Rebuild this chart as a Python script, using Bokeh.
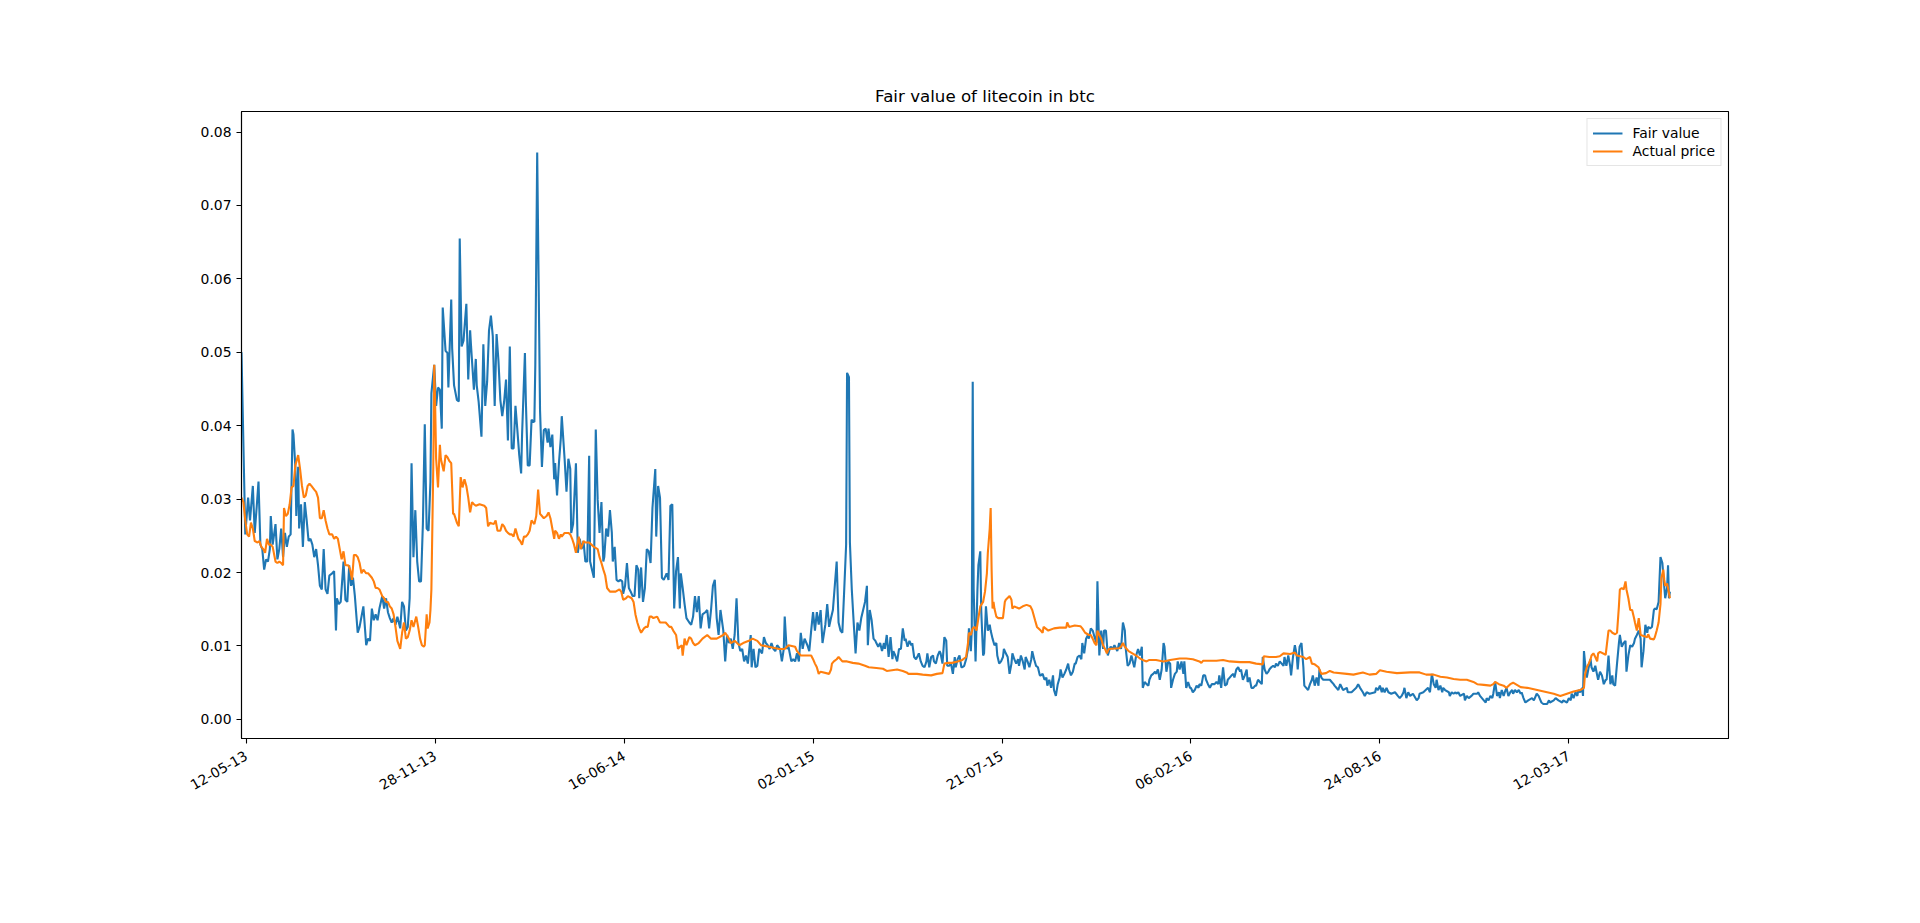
import math
from bokeh.plotting import figure
from bokeh.models import Range1d, FixedTicker, NumeralTickFormatter
from bokeh.embed import file_html
from bokeh.resources import INLINE

# x values are days since 2013-05-12 (first x tick)
START_DATE = "2013-05-12"
x_tick_days = [0, 200, 400, 600, 800, 1000, 1200, 1400]
x_tick_labels = ["12-05-13", "28-11-13", "16-06-14", "02-01-15",
                 "21-07-15", "06-02-16", "24-08-16", "12-03-17"]
y_ticks = [0.00, 0.01, 0.02, 0.03, 0.04, 0.05, 0.06, 0.07, 0.08]
X_MIN, X_MAX = -5, 1569
Y_MIN, Y_MAX = -0.0026, 0.0828

fair_days = [
    -5, -1, 2, 4, 7, 9, 11, 13, 15, 17, 19, 21, 23, 25, 26, 28, 31, 33, 35, 37, 39, 41, 43, 45, 47,
    49, 50, 52, 53, 55, 56, 58, 60, 62, 64, 66, 68, 70, 72, 74, 76, 78, 80, 82, 84, 86, 88, 91, 93,
    95, 96, 98, 100, 103, 105, 107, 109, 111, 113, 115, 118, 120, 122, 124, 127, 129, 131, 133, 135,
    137, 139, 141, 144, 146, 148, 150, 152, 154, 156, 158, 160, 163, 165, 167, 169, 171, 173, 175,
    177, 179, 181, 183, 185, 187, 189, 191, 193, 195, 196, 199, 201, 203, 205, 207, 208, 211, 213,
    214, 217, 218, 220, 223, 225, 226, 228, 230, 233, 235, 237, 238, 241, 243, 244, 246, 249, 251,
    253, 255, 257, 259, 261, 263, 265, 267, 269, 271, 273, 275, 277, 279, 281, 283, 285, 287, 289,
    291, 292, 295, 296, 298, 300, 302, 305, 306, 308,
    311, 313, 315, 317, 319, 320, 322, 324, 326, 327, 329, 331, 333, 334, 337, 339, 341, 343, 344,
    346, 349, 351, 353, 355, 357, 359, 361, 363, 364, 366, 368, 370, 372, 374, 376, 378, 379, 381,
    383, 385, 387, 388, 390, 392, 394, 396, 398, 399, 401, 403, 405, 407, 409, 411, 413, 415, 416,
    418, 420, 422, 424, 426, 428, 430, 433, 434, 436, 438, 440, 442, 445, 447, 449, 451, 453, 455,
    457, 459, 460, 462, 464, 466, 469, 471, 473, 475, 477, 479, 481, 483, 486, 488, 490, 492, 494,
    496, 498, 500, 502, 505, 507, 509, 511, 513, 515, 517, 519, 521, 523, 525, 527, 529, 531, 534,
    535, 537, 539, 541, 543, 546, 548, 550, 552, 554, 556, 558, 560, 562, 565, 567, 569, 570, 572,
    574, 577, 579, 581, 583, 585, 587, 589, 591, 594, 596, 598, 600, 602, 604, 606, 608, 610, 613,
    615, 617, 619, 621,
    625, 627, 629, 631, 633, 635, 636, 638, 639, 641, 643, 645, 647, 649, 651, 653, 655, 657, 658,
    660, 662, 664, 666, 667, 669, 671, 673, 675, 676, 678, 680, 682, 684, 685, 687, 689, 691, 693,
    695, 697, 698, 700, 702, 704, 705, 707, 709, 711, 712, 714, 716, 718, 720, 721, 723, 725, 727,
    728, 730, 732, 734, 735, 737, 739, 741, 742, 744, 746, 748, 750, 751, 753, 755, 757, 758, 760,
    762, 764, 765, 767, 768, 769, 770, 772, 774, 775, 777, 778, 780, 781, 783, 785, 787, 788, 790,
    792, 794, 795, 797, 799, 801, 802, 804, 806, 808, 810, 811, 813, 815, 817, 818, 820, 822, 824,
    825, 827, 829, 831, 832, 834, 836, 838, 840, 841, 843, 845, 847, 848, 850, 852, 854, 855, 857,
    859, 861, 862, 864, 866, 868, 870, 871, 873, 875, 877, 878, 880, 882, 884, 885, 887, 889, 891,
    892, 894, 896, 898, 900, 901, 903, 905, 907, 908, 910, 912, 914, 915, 917, 919, 921, 922, 924,
    926, 928, 930, 931, 933, 935, 937,
    939, 940, 942, 944, 946, 948, 949, 951, 953, 955, 956, 958, 960, 962, 963, 965, 967, 969, 971,
    972, 974, 976, 978, 979, 981, 983, 985, 986, 988, 990, 992, 993, 995, 997, 999, 1000, 1002,
    1004, 1006, 1008, 1009, 1011, 1013, 1015, 1016, 1018, 1020, 1022, 1023, 1025, 1027, 1029, 1030,
    1032, 1034, 1036, 1038, 1039, 1041, 1043, 1045, 1046, 1048, 1050, 1052, 1053, 1055, 1057, 1059,
    1060, 1062, 1064, 1066, 1068, 1069, 1071, 1073, 1075, 1076, 1078, 1080, 1082, 1083, 1085, 1087,
    1089, 1090, 1092, 1094, 1096, 1098, 1099, 1101, 1103, 1105, 1106, 1108, 1110, 1112, 1113, 1115,
    1117, 1119, 1120, 1122, 1124, 1126, 1128, 1129, 1131, 1133, 1135, 1136, 1138, 1140, 1143, 1147,
    1149, 1151, 1152, 1156, 1158, 1161, 1165, 1166, 1170, 1175, 1177, 1179, 1182, 1184, 1186, 1189,
    1195, 1196, 1198, 1200, 1202, 1203, 1205, 1207, 1209, 1212, 1216, 1219, 1221, 1223, 1225, 1226,
    1228, 1230, 1232, 1235, 1239, 1241, 1242, 1246, 1251,
    1253, 1255, 1257, 1259, 1260, 1262, 1264, 1266, 1267, 1269, 1273, 1274, 1276, 1278, 1280, 1281,
    1283, 1285, 1289, 1290, 1292, 1294, 1297, 1299, 1303, 1304, 1306, 1310, 1312, 1313, 1315, 1317,
    1319, 1320, 1322, 1324, 1326, 1327, 1329, 1331, 1333, 1334, 1336, 1338, 1340, 1341, 1343, 1345,
    1347, 1349, 1350, 1352, 1354, 1357, 1361, 1363, 1364, 1366, 1368, 1370, 1371, 1373, 1377, 1379,
    1380, 1384, 1386, 1389, 1393, 1394, 1398, 1400, 1402, 1403, 1405, 1407, 1409, 1410, 1412, 1414,
    1415, 1416, 1418, 1419, 1421, 1423, 1424, 1426, 1428, 1430, 1431, 1433, 1435, 1437, 1439, 1440,
    1442, 1444, 1446, 1447, 1449, 1451, 1453, 1454, 1456, 1458, 1460, 1461, 1463, 1465, 1467, 1469,
    1470, 1472, 1474, 1476, 1477, 1479, 1481, 1483, 1484, 1486, 1488, 1490, 1491, 1493, 1495, 1497,
    1499, 1500, 1502, 1504, 1505, 1506, 1507,
]
fair_values = [
    .0500, .0252, .0302, .0271, .0318, .0254, .0288, .0324, .0238, .0232, .0204, .0218, .0215, .0232,
    .0277, .0238, .0266, .0218, .0232, .0260, .0221, .0254, .0235, .0249, .0252,
    .0395, .0388, .0344, .0277, .0344, .0260, .0293, .0235, .0296, .0271, .0243, .0246, .0238, .0221,
    .0232, .0210, .0182, .0177, .0232, .0177, .0171, .0196, .0199, .0202,
    .0121, .0165, .0157, .0160, .0215, .0163, .0160, .0210, .0182, .0193, .0168, .0118, .0126, .0140,
    .0154, .0101, .0110, .0107, .0151, .0135,
    .0143, .0135, .0151, .0168, .0151, .0165, .0146, .0138, .0132, .0138, .0129, .0140, .0124, .0160,
    .0154, .0121, .0126, .0165, .0349,
    .0221, .0285, .0215, .0188, .0188, .0266, .0402, .0260, .0257, .0324, .0444, .0483, .0427, .0452,
    .0449, .0396, .0561, .0502, .0499,
    .0452, .0572, .0505, .0455, .0435, .0433, .0655, .0508, .0516, .0566, .0463, .0530, .0508, .0449,
    .0491, .0455, .0433, .0385, .0511,
    .0427, .0460, .0530, .0550, .0522, .0427, .0525, .0488, .0435, .0413, .0433, .0463, .0380, .0508,
    .0369, .0369, .0427, .0394, .0360,
    .0335, .0388, .0499, .0433, .0346, .0346, .0408, .0405, .0483, .0772,
    .0421, .0344, .0394, .0396, .0377, .0396, .0371, .0388, .0327, .0349, .0305, .0349, .0383, .0413,
    .0355, .0310, .0355, .0341, .0254,
    .0266, .0349, .0227, .0246, .0232, .0243, .0215, .0215, .0359, .0215, .0204, .0193, .0395, .0299,
    .0254, .0296, .0215, .0221, .0260,
    .0249, .0285, .0254, .0215, .0235, .0190, .0188, .0190, .0188, .0171, .0182, .0213, .0179, .0174,
    .0168, .0168, .0210, .0204, .0165,
    .0207, .0160, .0179, .0232, .0229, .0213, .0288, .0341, .0249, .0318, .0302, .0193, .0190, .0199,
    .0190, .0291, .0293, .0151, .0202,
    .0221, .0151, .0199, .0179, .0157, .0138, .0132, .0129, .0140, .0168, .0146, .0168, .0124, .0143,
    .0146, .0149, .0124, .0149, .0182,
    .0190, .0138, .0115, .0149, .0121, .0079, .0115, .0104, .0110, .0096, .0115, .0165, .0104, .0093,
    .0096, .0079, .0087, .0076, .0115,
    .0071, .0096, .0071, .0073, .0096, .0090, .0112, .0104, .0101, .0096, .0104, .0096, .0093, .0101,
    .0096, .0079, .0096, .0140, .0096,
    .0099, .0079, .0082, .0079, .0090, .0079, .0118, .0096, .0110, .0101, .0093, .0121, .0146, .0121,
    .0146, .0129, .0149, .0104, .0129,
    .0157, .0126, .0138, .0149,
    .0215, .0132, .0121, .0118, .0177, .0238, .0472, .0466, .0241, .0177, .0132, .0090, .0132, .0121,
    .0138, .0149, .0160, .0182, .0101,
    .0149, .0135, .0110, .0107, .0104, .0099, .0104, .0093, .0104, .0096, .0115, .0085, .0112, .0082,
    .0093, .0087, .0079, .0096, .0096,
    .0124, .0107, .0110, .0099, .0107, .0101, .0104, .0085, .0082, .0087, .0090, .0079, .0073, .0071,
    .0079, .0090, .0071, .0085, .0087,
    .0079, .0076, .0087, .0093, .0090, .0076, .0112, .0107, .0073, .0073, .0076, .0062, .0085, .0071,
    .0082, .0087, .0071, .0071, .0073,
    .0082, .0096, .0124, .0093, .0121, .0460, .0177, .0079, .0177, .0210, .0229, .0149, .0087, .0090,
    .0154, .0121, .0129, .0121, .0110,
    .0101, .0104, .0087, .0076, .0079, .0085, .0096, .0090, .0085, .0062, .0076, .0090, .0082, .0076,
    .0082, .0073, .0087, .0079, .0068,
    .0085, .0079, .0071, .0082, .0093, .0082, .0073, .0071, .0060, .0060, .0062, .0054, .0057, .0046,
    .0054, .0043, .0060, .0040, .0032,
    .0048, .0057, .0068, .0057, .0062, .0068, .0076, .0068, .0060, .0065, .0076, .0076, .0085, .0087,
    .0082, .0104, .0090, .0110, .0115,
    .0110, .0124, .0121, .0112, .0104, .0188, .0087, .0121, .0096, .0121, .0121, .0087, .0096, .0099,
    .0096, .0101, .0096, .0093, .0104,
    .0096, .0132, .0121, .0096, .0073, .0076, .0087,
    .0076, .0071, .0087, .0096, .0087, .0099, .0043, .0051, .0048, .0046, .0054, .0060, .0062, .0065,
    .0062, .0068, .0054, .0068, .0104,
    .0099, .0065, .0079, .0076, .0043, .0054, .0062, .0065, .0079, .0068, .0079, .0062, .0079, .0043,
    .0051, .0043, .0043, .0037,
    .0040, .0046, .0043, .0048, .0046, .0060, .0060, .0054, .0048, .0043, .0048, .0048, .0048, .0051,
    .0048, .0060,
    .0043, .0071, .0046, .0048, .0054, .0057, .0060, .0062, .0057, .0068, .0071, .0065, .0068, .0054,
    .0060, .0068,
    .0051, .0057, .0043, .0043, .0046, .0046, .0054, .0051, .0048, .0085, .0068, .0062, .0065, .0068,
    .0071, .0073,
    .0071, .0076, .0073, .0079, .0076, .0073, .0085, .0073, .0087, .0073, .0060, .0085, .0101, .0087,
    .0068, .0099,
    .0104, .0071, .0046, .0043, .0040, .0048, .0054, .0060, .0046, .0057, .0046, .0068, .0057, .0054,
    .0054, .0054,
    .0051, .0048, .0046, .0040, .0048, .0040, .0043, .0037, .0037, .0043, .0048, .0043, .0037, .0032,
    .0037, .0035,
    .0037, .0043, .0040, .0046, .0037, .0043, .0037, .0043, .0037, .0035, .0037, .0032, .0029, .0032,
    .0037, .0043,
    .0029, .0037, .0032, .0035, .0026, .0029, .0035, .0037, .0043,
    .0037, .0062, .0048, .0043, .0054, .0040, .0046, .0037, .0043, .0040, .0037, .0032, .0037, .0035,
    .0037, .0035,
    .0037, .0032, .0035, .0026, .0032, .0029, .0032, .0035, .0035, .0037, .0032, .0026, .0023, .0029,
    .0026, .0032,
    .0029, .0035, .0051, .0032, .0037, .0029, .0040, .0032, .0040, .0043, .0032, .0037, .0040, .0035,
    .0040, .0037,
    .0040, .0035, .0037, .0029, .0023, .0026, .0029, .0026, .0029, .0035, .0032, .0026, .0023, .0021,
    .0021, .0026,
    .0023, .0026, .0029, .0026, .0023, .0026, .0023, .0029, .0026, .0035, .0029, .0037, .0032, .0040,
    .0037, .0043,
    .0032, .0093, .0065, .0057, .0071, .0082, .0071, .0065, .0073, .0060, .0054, .0065, .0060, .0048,
    .0054, .0054,
    .0087, .0048, .0060, .0048, .0046, .0076, .0104, .0115, .0099, .0104, .0107, .0065, .0087, .0101,
    .0099, .0104,
    .0110, .0115, .0121, .0110, .0071, .0093, .0129, .0118, .0126, .0124, .0126, .0149, .0151, .0150,
    .0160, .0221,
    .0213, .0196, .0165, .0179, .0210, .0165, .0174,
]

price_days = [
    -5, -3, -1, 1, 3, 5, 7, 9, 12, 14, 16, 18, 20, 22, 24, 26, 28, 31, 33, 35, 37, 39, 40, 42, 44, 46,
    48, 50, 52, 55, 57, 59, 61, 63, 65, 67, 69, 72, 74, 76, 78, 80, 82, 84, 86, 88, 91, 93, 95, 97,
    99, 101, 103, 105, 108, 110, 112, 114, 116, 118, 120, 122, 124, 127, 129, 131, 133, 135, 137,
    139, 141, 144, 146, 148, 150, 152, 154, 156, 158, 160, 163, 165, 167, 169, 171, 173, 175, 177,
    180, 182, 184, 186, 188, 189, 191, 192, 194, 195, 196, 198, 199, 200, 201, 203, 205, 206, 209,
    211, 213, 215, 217, 219, 220, 223, 225, 227, 229, 231, 233, 235, 237, 239, 241, 243, 247, 252,
    254, 256, 258, 262, 264, 266, 269, 271, 273, 275, 277, 279, 281, 283, 285, 288, 290, 292, 294,
    296, 298, 300, 302, 305, 307, 309,
    311, 313, 315, 318, 320, 322, 324, 326, 327, 329, 331, 333, 334, 337, 341, 343, 345, 347, 349,
    350, 352, 354, 356, 357, 359, 363, 368, 372, 374, 376, 378, 380, 382, 385, 391, 395, 397, 399,
    402, 404, 408, 410, 412, 414, 416, 418, 421, 423, 425, 427, 429, 431, 435, 438, 444, 448, 450,
    452, 455, 457, 459, 461, 462, 464, 466, 469, 471, 473, 475, 479, 483, 488, 492, 498, 505, 507,
    511, 513, 517, 522, 526, 532, 536, 541, 545, 553, 564, 570, 574, 581, 583, 585, 587, 598, 600,
    602, 604, 606, 608, 617, 619, 620, 622,
    625, 627, 631, 636, 642, 648, 655, 659, 667, 674, 678, 689, 695, 699, 701, 710, 716, 725, 731,
    737, 739, 743, 747, 753, 758, 762, 764, 765, 767, 769, 771, 773, 775, 777, 780, 782, 784, 785,
    787, 788, 789, 790, 791, 792, 794, 796, 801, 803, 804, 808, 810, 811, 813, 818, 822, 826, 830,
    832, 835, 837, 841, 843, 844, 849, 855, 861, 868, 869, 871, 877, 883, 885, 888, 892, 894, 896,
    898, 900, 901, 903, 905, 907, 909, 911, 913, 924, 926, 928, 930, 934, 938,
    942, 946, 949, 953, 956, 963, 971, 978, 988, 995, 1002, 1009, 1011, 1013, 1027, 1034, 1041, 1052,
    1062, 1069, 1076, 1077, 1083, 1090, 1094, 1098, 1105, 1110, 1112, 1119, 1122, 1126, 1128, 1131,
    1135, 1138, 1143, 1147, 1151, 1165, 1172, 1182, 1189, 1196, 1200, 1207, 1218, 1232, 1242, 1249,
    1257, 1264, 1271, 1278, 1285, 1292, 1299, 1303, 1310, 1317, 1320, 1322, 1326, 1331, 1334, 1338,
    1341, 1345, 1349, 1356, 1363, 1370, 1377, 1384, 1391, 1398, 1405, 1412, 1416, 1417, 1419, 1421,
    1423, 1424, 1426, 1428, 1430, 1431, 1433, 1439, 1440, 1442, 1444, 1446, 1449, 1451, 1453, 1454,
    1456, 1458, 1460, 1461, 1463, 1465, 1467, 1469, 1470, 1472, 1474, 1476, 1483, 1484, 1486, 1490,
    1491, 1493, 1495, 1497, 1498, 1500, 1501, 1502, 1504, 1505, 1507,
]
price_values = [
    .0302, .0296, .0271, .0252, .0249, .0268, .0260, .0243, .0241, .0243, .0235, .0232, .0227, .0246,
    .0238, .0238, .0235, .0215, .0213, .0215, .0213, .0210, .0288, .0277, .0280, .0293,
    .0316, .0318, .0346, .0360, .0341, .0318, .0302, .0305, .0318, .0321, .0318, .0313, .0310, .0302,
    .0274, .0274, .0285, .0271, .0260, .0252, .0252, .0246, .0249, .0246,
    .0232, .0218, .0229, .0210, .0210, .0204, .0190, .0224, .0224, .0221, .0213, .0199, .0204, .0199,
    .0199, .0196, .0193, .0188, .0179,
    .0179, .0177, .0168, .0165, .0160, .0160, .0154, .0151, .0143, .0126, .0107, .0096, .0118, .0132,
    .0110, .0112, .0121, .0135, .0126,
    .0140, .0126, .0110, .0101, .0099, .0101, .0143, .0124, .0132, .0149, .0177, .0344, .0483, .0427,
    .0355, .0316, .0374, .0355, .0338,
    .0360, .0357, .0352, .0349, .0280, .0280, .0268, .0263, .0330, .0316, .0327, .0318, .0302, .0282,
    .0296, .0293, .0291, .0293, .0291,
    .0288, .0263, .0268, .0266, .0271, .0257, .0257, .0266, .0263, .0257, .0254, .0252, .0252, .0249,
    .0260, .0246, .0243, .0238, .0249,
    .0249, .0252, .0257, .0271, .0266, .0277, .0313,
    .0280, .0277, .0274, .0277, .0282, .0274, .0260, .0246, .0257, .0254, .0246, .0252, .0249, .0254,
    .0254, .0252, .0246, .0238, .0227,
    .0235, .0249, .0232, .0238, .0243, .0241, .0241, .0235, .0232, .0221, .0213, .0204, .0196, .0179,
    .0174, .0174, .0177, .0174, .0163,
    .0165, .0168, .0165, .0160, .0143, .0132, .0124, .0118, .0124, .0126, .0126, .0140, .0140, .0138,
    .0140, .0132, .0132, .0126, .0126,
    .0121, .0115, .0096, .0099, .0101, .0087, .0110, .0101, .0112, .0110, .0104, .0101, .0104, .0110,
    .0115, .0110, .0110, .0115, .0118,
    .0110, .0104, .0107, .0101, .0104, .0107, .0110, .0107, .0101, .0099, .0096, .0096, .0101, .0099,
    .0093, .0090, .0087, .0087, .0082,
    .0076, .0071, .0062, .0065, .0062, .0068, .0076, .0079,
    .0082, .0085, .0079, .0079, .0077, .0076, .0073, .0071, .0070, .0069, .0066, .0068, .0066, .0064,
    .0062, .0062, .0061, .0060, .0062,
    .0063, .0076, .0077, .0077, .0079, .0081, .0085, .0104, .0118, .0115, .0124, .0126, .0121, .0138,
    .0154, .0160, .0174, .0199, .0227,
    .0260, .0288, .0204, .0151, .0160, .0151, .0140, .0138, .0138, .0160, .0163, .0168, .0163, .0151,
    .0154, .0151, .0154, .0156, .0154,
    .0149, .0135, .0126, .0121, .0118, .0126, .0121, .0124, .0125, .0125, .0132, .0126, .0128, .0127,
    .0124, .0118, .0115, .0115, .0110,
    .0104, .0101, .0121, .0115, .0110, .0101, .0096, .0090, .0096, .0097, .0099, .0104, .0099, .0093,
    .0090,
    .0087, .0083, .0081, .0079, .0081, .0081, .0079, .0081, .0083, .0083, .0082, .0079, .0077, .0080,
    .0080, .0081, .0079, .0078,
    .0078, .0076, .0075, .0086, .0085, .0085, .0086, .0090, .0089, .0091, .0087, .0085, .0082, .0085,
    .0076, .0075,
    .0071, .0062, .0063, .0066, .0064, .0062, .0061, .0064, .0061, .0062, .0067, .0065, .0063, .0064,
    .0064, .0061,
    .0061, .0058, .0057, .0055, .0054, .0054, .0051, .0048, .0047, .0046, .0048, .0051, .0048, .0046,
    .0043, .0048,
    .0050, .0047, .0044, .0043, .0041, .0039, .0037, .0035, .0032, .0035, .0038, .0040, .0043, .0060,
    .0071, .0076,
    .0082, .0087, .0090, .0085, .0079, .0090, .0092, .0088, .0099, .0121, .0121, .0118, .0116, .0118,
    .0154, .0177,
    .0179, .0177, .0188, .0177, .0165, .0149, .0149, .0138, .0132, .0121, .0138, .0115, .0112, .0116,
    .0110, .0109,
    .0112, .0121, .0132, .0157, .0193, .0204, .0190, .0182, .0185, .0179, .0165,
]

p = figure(
    width=1904, height=907,
    output_backend="svg", toolbar_location=None,
    x_range=Range1d(X_MIN, X_MAX), y_range=Range1d(Y_MIN, Y_MAX),
    title="Fair value of litecoin in btc",
    min_border_left=241, min_border_right=176,
    min_border_top=111, min_border_bottom=169,
)
p.background_fill_color = "white"
p.border_fill_color = "white"
p.outline_line_color = "black"
p.outline_line_width = 1.1
p.outline_line_alpha = 1.0
p.grid.grid_line_color = None

p.title.text_font = "DejaVu Sans"
p.title.text_font_size = "16.67px"
p.title.text_font_style = "normal"
p.title.text_color = "black"
p.title.align = "center"
p.title.standoff = 11

for ax in (p.xaxis[0], p.yaxis[0]):
    ax.axis_line_color = "black"
    ax.axis_line_width = 1.1
    ax.major_tick_line_color = "black"
    ax.major_tick_line_width = 1.1
    ax.major_tick_out = 5
    ax.major_tick_in = 0
    ax.minor_tick_line_color = None
    ax.major_label_text_font = "DejaVu Sans"
    ax.major_label_text_font_size = "13.9px"
    ax.major_label_text_color = "black"
    ax.major_label_standoff = 5

p.yaxis.ticker = FixedTicker(ticks=y_ticks)
p.yaxis.formatter = NumeralTickFormatter(format="0.00")
p.xaxis.ticker = FixedTicker(ticks=x_tick_days)
p.xaxis.major_label_overrides = {d: lab for d, lab in zip(x_tick_days, x_tick_labels)}
p.xaxis.major_label_orientation = math.pi / 6
p.xaxis.major_label_standoff = 11

p.line(fair_days, fair_values, line_color="#1f77b4", line_width=2.1, legend_label="Fair value")
p.line(price_days, price_values, line_color="#ff7f0e", line_width=2.1, legend_label="Actual price")

lg = p.legend[0]
lg.location = "top_right"
lg.margin = 7
lg.padding = 5
lg.spacing = 0
lg.label_height = 18
lg.glyph_height = 18
lg.glyph_width = 30
lg.label_standoff = 10
lg.label_text_font = "DejaVu Sans"
lg.label_text_font_size = "13.9px"
lg.label_text_color = "black"
lg.border_line_color = "#cccccc"
lg.border_line_width = 1
lg.background_fill_color = "white"
lg.background_fill_alpha = 0.8

open("out.html", "w").write(file_html(p, INLINE))
